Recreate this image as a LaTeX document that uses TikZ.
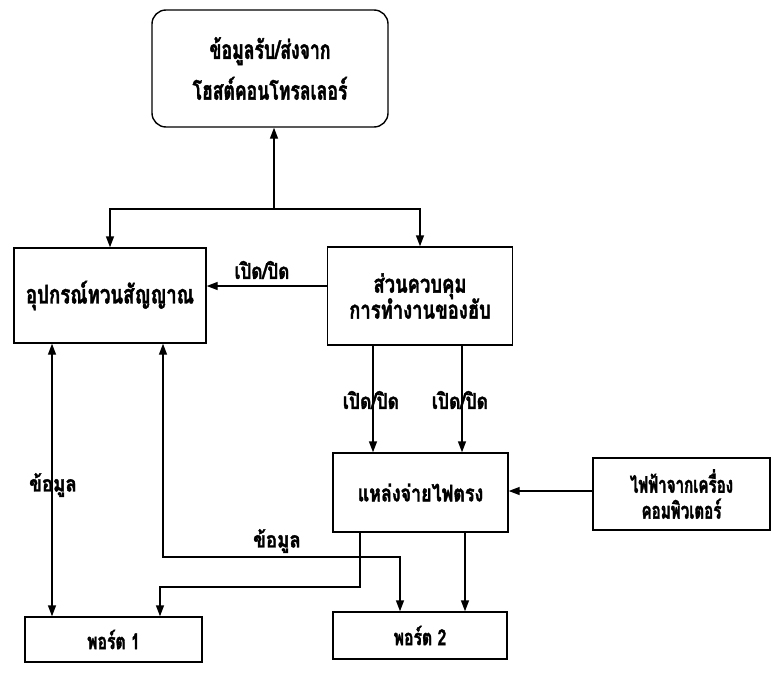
\documentclass[tikz,border=0pt]{standalone}
\usepackage{fontspec}
\newfontfamily\thaifont[Script=Thai,FakeBold=1.6]{Loma}
\usetikzlibrary{arrows.meta}
% Thai text: size, line spacing, horizontal squeeze
\newcommand\thaitext[3]{\thaifont\bfseries\addfontfeatures{FakeStretch=#3}%
  \fontsize{#1}{#2}\selectfont\lineskiplimit=-30pt\relax}

\begin{document}
\begin{tikzpicture}[x=1bp,y=-1bp,
  line width=1.4bp,
  tip/.style={-{Triangle[length=11bp,width=8bp]}},
  twotip/.style={{Triangle[length=11bp,width=8bp]}-{Triangle[length=11bp,width=8bp]}},
  blk/.style={draw,line width=1.4bp,inner sep=0pt,align=center},
  lbl/.style={inner sep=1bp},
]
\useasboundingbox (0,0) rectangle (774,674);

% blocks
\node[blk,rounded corners=14bp,minimum width=236bp,minimum height=117bp,
  font=\thaitext{26}{41}{0.68}]
  (host) at (270,68.5) {ข้อมูลรับ/ส่งจาก\\โฮสต์คอนโทรลเลอร์};
\node[blk,minimum width=192bp,minimum height=95bp,font=\thaitext{26}{30}{0.72}]
  (rep) at (110,295.5) {อุปกรณ์ทวนสัญญาณ};
\node[blk,minimum width=185bp,minimum height=98bp,font=\thaitext{25}{26}{0.74}]
  (ctl) at (420,296) {ส่วนควบคุม\\การทำงานของฮับ};
\node[blk,minimum width=175bp,minimum height=79bp,font=\thaitext{23}{26}{0.78}]
  (pwr) at (420.5,492.5) {แหล่งจ่ายไฟตรง};
\node[blk,minimum width=177bp,minimum height=72bp,font=\thaitext{23}{26}{0.66}]
  (pc) at (681.5,494) {ไฟฟ้าจากเครื่อง\\คอมพิวเตอร์};
\node[blk,minimum width=177bp,minimum height=45bp,font=\thaitext{22}{26}{0.72}]
  (p1) at (113.5,639.5) {พอร์ต 1};
\node[blk,minimum width=174bp,minimum height=47bp,font=\thaitext{22}{26}{0.72}]
  (p2) at (420,635.5) {พอร์ต 2};

% bus from the host
\coordinate (j) at (274,209);
\draw[tip] (j) -- (j |- host.south);
\draw[tip] (j) -| (rep.north);
\draw[tip] (j) -| (ctl.north);

% hub control
\draw[tip] (ctl.west |- 0,286) -- (rep.east |- 0,286);
\node[lbl,font=\thaitext{22}{24}{0.78}] (l1) at (262,270) {เปิด/ปิด};
\draw[tip] (ctl.south -| 373,0) -- (pwr.north -| 373,0);
\draw[tip] (ctl.south -| 462,0) -- (pwr.north -| 462,0);
\node[lbl,font=\thaitext{22}{24}{0.8}] (l2) at (371,400) {เปิด/ปิด};
\node[lbl,font=\thaitext{22}{24}{0.8}] (l3) at (460,400) {เปิด/ปิด};

% power
\draw[tip] (pc.west |- 0,491) -- (pwr.east |- 0,491);
\draw[tip] (pwr.south -| 360,0) -- (360,587) -| (p1.north -| 160,0);
\draw[tip] (pwr.south -| 465,0) -- (p2.north -| 465,0);

% data paths
\draw[twotip] (rep.south -| 52,0) -- (p1.north -| 52,0);
\node[lbl,font=\thaitext{22}{24}{0.85}] (l4) at (53,485) {ข้อมูล};
\draw[twotip] (rep.south -| 163,0) -- (163,557) -| (p2.north -| 400,0);
\node[lbl,font=\thaitext{22}{24}{0.85}] (l5) at (277,541) {ข้อมูล};
\end{tikzpicture}
\end{document}
